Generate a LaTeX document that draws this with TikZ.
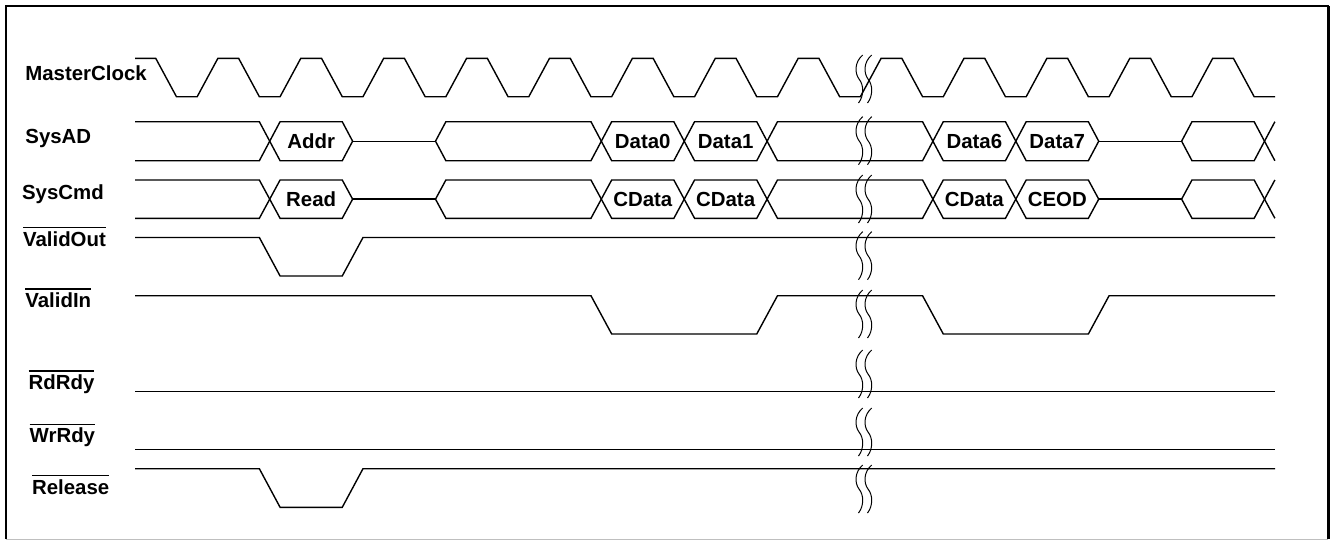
\documentclass[tikz,border=0pt]{standalone}
\usepackage{fontspec}
\setmainfont{Liberation Sans}
\newcommand\ovl[1]{\vbox{\hrule height 0.65pt\kern 1.4pt\hbox{#1}}}
\begin{document}
\begin{tikzpicture}[x=0.5pt,y=-0.5pt,
  sig/.style={line width=0.7pt, line join=miter},
  brk/.style={line width=0.5pt},
  lbl/.style={anchor=base west, inner sep=0pt, font=\fontsize{10.2}{12}\selectfont\bfseries},
  dat/.style={inner sep=0pt, font=\fontsize{10.2}{12}\selectfont\bfseries}]
\useasboundingbox (0,0) rectangle (1332,541);
% frame
\draw[line width=1.1pt] (6,539) -- (6,6) -- (1328,6) -- (1328,539);
\draw[line width=1.6pt] (1328.5,6) -- (1328.5,539);
\draw[gray!50, line width=0.6pt] (6,539.5) -- (1328,539.5);

% labels
\node[lbl] (lclk) at (25,80.5) {MasterClock};
\node[lbl] (lad)  at (25,143) {SysAD};
\node[lbl] (lcmd) at (21.7,199) {SysCmd};
\node[lbl] (lvo)  at (22.7,246) {\ovl{ValidOut}};
\node[lbl] (lvi)  at (25,307.3) {\ovl{ValidIn}};
\node[lbl] (lrd)  at (28.3,389.3) {\ovl{RdRdy}};
\node[lbl] (lwr)  at (29.3,442.7) {\ovl{WrRdy}};
\node[lbl] (lrel) at (31.7,494) {\ovl{Release}};

% master clock
\draw[sig] (135,58.3) \foreach \j in {0,...,12}{
  -- ({135+82.9*\j+20.725},58.3) -- ({135+82.9*\j+41.45},96.7)
  -- ({135+82.9*\j+62.175},96.7) -- ({135+82.9*(\j+1)},58.3) }
  -- (1233.4,58.3) -- (1254.15,96.7) -- (1275,96.7);

% bus rows: top y / bottom y
\foreach \yt/\yb in {121.7/160.7, 180/218.3}{
  \pgfmathsetmacro\ym{(\yt+\yb)/2}
  \draw[sig] (135,\yt) -- (259.35,\yt) -- (269.71,\ym) -- (259.35,\yb) -- (135,\yb);
  \draw[sig] (1274.87,\yt) -- (1264.51,\ym) -- (1274.87,\yb);
  \draw[sig] (352.61,\ym) -- (435.51,\ym);
  \draw[sig] (1098.71,\ym) -- (1181.61,\ym);
  \foreach \a/\b in {1/2, 3/5, 5/6, 6/7, 7/9, 9/10, 10/11, 12/13}{
    \pgfmathsetmacro\xa{186.81+82.9*\a}
    \pgfmathsetmacro\xb{186.81+82.9*\b}
    \draw[sig] (\xa,\ym) -- (\xa+10.36,\yt) -- (\xb-10.36,\yt) -- (\xb,\ym)
      -- (\xb-10.36,\yb) -- (\xa+10.36,\yb) -- cycle;
  }
}
% bus labels
\node[dat] (addr)  at (311.16,141.2) {Addr};
\node[dat] (d0)    at (642.76,141.2) {Data0};
\node[dat] (d1)    at (725.66,141.2) {Data1};
\node[dat] (d6)    at (974.36,141.2) {Data6};
\node[dat] (d7)    at (1057.26,141.2) {Data7};
\node[dat] (rd)    at (311.16,199.2) {Read};
\node[dat] (cd0)   at (642.76,199.2) {CData};
\node[dat] (cd1)   at (725.66,199.2) {CData};
\node[dat] (cd6)   at (974.36,199.2) {CData};
\node[dat] (ceod)  at (1057.26,199.2) {CEOD};

% ValidOut
\draw[sig] (135,237.5) -- (259.35,237.5) -- (280.08,276) -- (342.25,276) -- (362.98,237.5) -- (1275,237.5);
% ValidIn
\draw[sig] (135,295.7) -- (590.95,295.7) -- (611.68,334) -- (756.75,334) -- (777.48,295.7)
  -- (922.55,295.7) -- (943.28,334) -- (1088.35,334) -- (1109.08,295.7) -- (1275,295.7);
% RdRdy, WrRdy
\draw[sig] (135,391.7) -- (1275,391.7);
\draw[sig] (135,449.3) -- (1275,449.3);
% Release
\draw[sig] (135,468.7) -- (259.35,468.7) -- (280.08,507.3) -- (342.25,507.3) -- (362.98,468.7) -- (1275,468.7);

% break marks
\foreach \y in {55,116.7,175,231.7,290,350,408,465}{
  \foreach \x in {860,869}{
    \draw[brk] (\x+2.7,\y) .. controls (\x-5.5,\y+7) and (\x-5.5,\y+18) .. (\x-1,\y+24)
      .. controls (\x+4,\y+30) and (\x+4,\y+41) .. (\x-1.5,\y+48);
  }
}
\end{tikzpicture}
\end{document}
